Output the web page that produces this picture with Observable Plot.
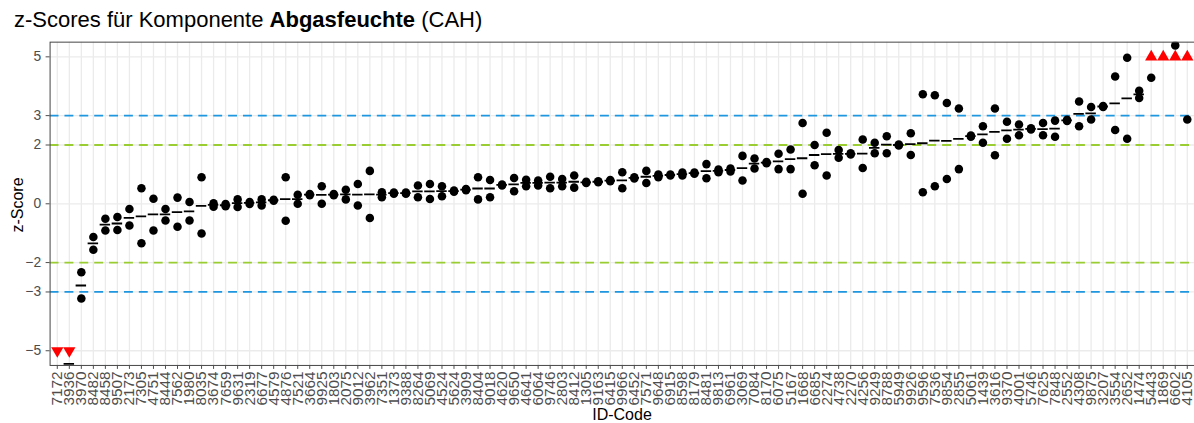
<!DOCTYPE html>
<html><head><meta charset="utf-8">
<script src="https://cdn.jsdelivr.net/npm/d3@7"></script>
<script src="https://cdn.jsdelivr.net/npm/@observablehq/plot@0.6"></script>
<style>
body{margin:0;overflow:hidden;background:#fff;font-family:"Liberation Sans",Arial,sans-serif;}
#wrap{position:relative;width:1194px;height:423px;overflow:hidden;}
#title{position:absolute;left:14px;top:9px;font-size:22px;line-height:22px;color:#000;white-space:nowrap;}
#ytitle{position:absolute;left:18px;top:205px;font-size:16px;line-height:16px;white-space:nowrap;transform:translate(-50%,-50%) rotate(-90deg);}
#xtitle{position:absolute;left:622px;top:407px;font-size:16px;line-height:16px;white-space:nowrap;transform:translateX(-50%);}
#chart{position:absolute;left:0;top:0;}
</style></head><body>
<div id="wrap">
<div id="chart"></div>
<div id="title">z-Scores für Komponente <b>Abgasfeuchte</b> (CAH)</div>
<div id="ytitle">z-Score</div>
<div id="xtitle">ID-Code</div>
</div>
<script>
const ids = ["7172","3936","3970","8482","8458","9507","2173","7305","4751","8444","7562","1980","8035","3674","7659","9631","2319","6677","4579","4876","7521","3664","9925","1803","2075","9012","3962","7351","1373","9388","8264","5069","4524","5624","3909","8404","9018","4620","9650","4641","6064","9746","2803","8412","1305","9163","6415","9966","6452","7571","9648","6915","8598","8179","8481","9813","6961","3069","7084","8170","6075","5167","1668","6685","2274","4738","2270","4256","9249","8788","5949","9926","9596","7536","9854","2855","5061","1439","3616","9370","4001","5746","7625","7848","2552","4308","9875","3207","3554","2652","1474","5443","1869","6602","4105"];
const zA = [null,null,-2.33,-1.13,-0.51,-0.45,-0.18,0.53,0.17,-0.18,0.21,0.06,0.90,0.02,-0.01,0.15,0.06,0.15,0.14,0.90,0.31,0.33,0.60,0.33,0.48,0.67,1.12,0.39,0.38,0.38,0.62,0.67,0.60,0.45,0.50,0.90,0.81,0.66,0.88,0.82,0.79,0.92,0.84,0.96,0.75,0.77,0.81,1.07,0.90,1.12,1.00,1.00,1.06,1.06,1.35,1.17,1.20,1.63,1.54,1.42,1.70,1.85,2.75,2.00,2.42,1.83,1.72,2.19,2.08,2.30,2.02,2.40,3.73,3.69,3.43,3.24,2.32,2.64,3.24,2.79,2.70,2.57,2.75,2.83,2.86,3.48,3.29,3.33,4.33,4.97,3.85,4.29,null,5.39,2.87];
const zB = [null,null,-3.22,-1.56,-0.91,-0.89,-0.74,-1.34,-0.91,-0.57,-0.78,-0.57,-1.01,-0.10,-0.08,-0.11,-0.01,-0.06,0.10,-0.58,0.00,0.29,0.00,0.29,0.15,-0.06,-0.48,0.22,0.34,0.34,0.22,0.16,0.26,0.41,0.46,0.15,0.22,0.62,0.43,0.60,0.62,0.53,0.60,0.55,0.71,0.73,0.77,0.53,0.86,0.71,0.90,0.96,0.96,1.02,0.87,1.07,1.10,0.79,1.20,1.38,1.18,1.18,0.34,1.31,0.96,1.57,1.68,1.22,1.72,1.72,1.98,1.66,0.39,0.60,0.84,1.18,2.28,2.08,1.65,2.21,2.33,2.53,2.33,2.28,2.82,2.64,2.87,3.29,2.51,2.21,3.60,null,null,null,null];
const zMean = [null,-5.45,-2.78,-1.35,-0.71,-0.67,-0.48,-0.43,-0.36,-0.36,-0.28,-0.26,-0.07,-0.04,-0.05,0.02,0.03,0.05,0.12,0.16,0.16,0.31,0.30,0.31,0.32,0.31,0.32,0.31,0.36,0.36,0.42,0.42,0.43,0.43,0.48,0.52,0.52,0.64,0.66,0.71,0.71,0.72,0.72,0.75,0.73,0.75,0.79,0.80,0.88,0.92,0.95,0.98,1.01,1.04,1.11,1.12,1.15,1.21,1.37,1.40,1.44,1.52,1.55,1.66,1.69,1.70,1.70,1.71,1.90,2.01,2.00,2.03,2.06,2.15,2.14,2.21,2.30,2.36,2.45,2.50,2.52,2.55,2.54,2.56,2.84,3.06,3.08,3.31,3.42,3.59,3.72,null,null,null,null];
const lowOut = ["7172","3936"];
const highOut = ["5443","1869","6602","4105"];
const yTicks = [-5,-3,-2,0,2,3,5];
const actionLimits = [-3,3];
const warningLimits = [-2,2];
const clipValue = 5;

const points = ids.flatMap((id,i)=>[{id,z:zA[i]},{id,z:zB[i]}]).filter(d=>d.z!=null);
const means = ids.map((id,i)=>({id,z:zMean[i]})).filter(d=>d.z!=null);

const chart = Plot.plot({
  width:1204, height:423,
  marginTop:42, marginBottom:55, marginLeft:50, marginRight:0,
  style:{fontFamily:"'Liberation Sans',Arial,sans-serif", fontSize:"14px", background:"#fff", overflow:"visible"},
  x:{type:"band", domain:ids, paddingInner:0.13, paddingOuter:0.165, round:false, label:null},
  y:{domain:[-5.5,5.5], label:null},
  marks:[
    Plot.gridX({stroke:"#ebebeb", strokeOpacity:1, strokeWidth:1.3}),
    Plot.gridY(yTicks,{stroke:"#ebebeb", strokeOpacity:1, strokeWidth:1.3}),
    Plot.ruleY(actionLimits,{stroke:"#1f97e0", strokeWidth:1.8, strokeDasharray:"9,6"}),
    Plot.ruleY(warningLimits,{stroke:"#9acd32", strokeWidth:1.8, strokeDasharray:"9,6"}),
    Plot.tickY(means,{x:"id", y:"z", stroke:"#000", strokeWidth:1.8, clip:true}),
    Plot.dot(points,{x:"id", y:"z", r:4.3, fill:"#000", stroke:null, clip:true}),
    Plot.dot(lowOut,{x:d=>d, y:()=>-clipValue, symbol:"triangle", rotate:180, r:4.6, fill:"#ff0000", stroke:null}),
    Plot.dot(highOut,{x:d=>d, y:()=>clipValue, symbol:"triangle", r:4.6, fill:"#ff0000", stroke:null}),
    Plot.frame({stroke:"#444", strokeWidth:1}),
    Plot.axisY({ticks:yTicks, tickSize:4, tickPadding:5, color:"#4d4d4d", fontSize:14, label:null}),
    Plot.axisX({tickRotate:-90, tickSize:4, tickPadding:2, color:"#4d4d4d", fontSize:15.5, label:null})
  ]
});
document.getElementById("chart").appendChild(chart);
</script>
</body></html>
